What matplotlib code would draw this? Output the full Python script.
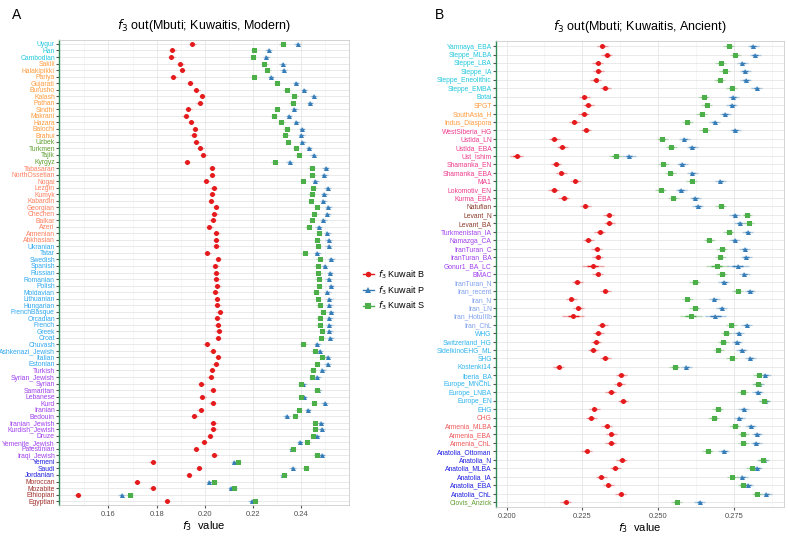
import matplotlib.pyplot as plt
from matplotlib.lines import Line2D
import numpy as np

plt.rcParams['font.family'] = ['Liberation Sans', 'DejaVu Sans']
plt.rcParams['mathtext.fontset'] = 'dejavusans'

# ---- panel A: modern populations ----
modern = ['Uygur', 'Han', 'Cambodian', 'Sakili', 'Halakipikki', 'Pariya', 'Gujarati',
          'Burusho', 'Kalash', 'Pathan', 'Sindhi', 'Makrani', 'Hazara', 'Balochi', 'Brahui',
          'Uzbek', 'Turkmen', 'Tajik', 'Kyrgyz', 'Tabasaran', 'NorthOssetian', 'Nogai',
          'Lezgin', 'Kumyk', 'Kabardin', 'Georgian', 'Chechen', 'Balkar', 'Azeri', 'Armenian',
          'Abkhasian', 'Ukranian', 'Tatar', 'Swedish', 'Spanish', 'Russian', 'Romanian',
          'Polish', 'Moldavian', 'Lithuanian', 'Hungarian', 'FrenchBasque', 'Orcadian',
          'French', 'Greek', 'Croat', 'Chuvash', 'Ashkenazi_Jewish', 'Italian', 'Estonian',
          'Turkish', 'Syrian_Jewish', 'Syrian', 'Samaritan', 'Lebanese', 'Kurd', 'Iranian',
          'Bedouin', 'Iranian_Jewish', 'Kurdish_Jewish', 'Druze', 'Yemenite_Jewish',
          'Palestinian', 'Iraqi_Jewish', 'Yemeni', 'Saudi', 'Jordanian', 'Moroccan',
          'Mozabite', 'Ethiopian', 'Egyptian']
modern_groups = ([('#22c8dc', 3), ('#ff9a3c', 12), ('#5f9e2f', 4), ('#ff7f5e', 12),
                  ('#2fa8f0', 19), ('#a040ee', 14), ('#1f1fe0', 3), ('#a0302c', 4)])

modern_b = [0.1948, 0.1865, 0.1861, 0.1898, 0.1905, 0.1869, 0.1938, 0.1964, 0.1988, 0.1979,
            0.1932, 0.1920, 0.1942, 0.1959, 0.1954, 0.1964, 0.1981, 0.1994, 0.1926, 0.2030,
            0.2030, 0.2006, 0.2036, 0.2030, 0.2025, 0.2046, 0.2040, 0.2032, 0.2018, 0.2047,
            0.2046, 0.2047, 0.2010, 0.2055, 0.2044, 0.2048, 0.2047, 0.2052, 0.2043, 0.2050,
            0.2052, 0.2061, 0.2051, 0.2054, 0.2058, 0.2055, 0.2007, 0.2032, 0.2055, 0.2045,
            0.2030, 0.2024, 0.1985, 0.2033, 0.1989, 0.2033, 0.1983, 0.1956, 0.2035, 0.2035,
            0.2021, 0.1996, 0.1963, 0.2039, 0.1784, 0.1976, 0.1934, 0.1719, 0.1783, 0.1472,
            0.1843]
modern_s = [0.2323, 0.2204, 0.2200, 0.2247, 0.2259, 0.2204, 0.2299, 0.2339, 0.2371, 0.2364,
            0.2299, 0.2287, 0.2317, 0.2339, 0.2334, 0.2345, 0.2378, 0.2389, 0.2290, 0.2443,
            0.2446, 0.2407, 0.2450, 0.2443, 0.2440, 0.2465, 0.2454, 0.2444, 0.2430, 0.2474,
            0.2466, 0.2469, 0.2414, 0.2477, 0.2468, 0.2470, 0.2472, 0.2474, 0.2462, 0.2469,
            0.2476, 0.2491, 0.2476, 0.2477, 0.2486, 0.2483, 0.2408, 0.2455, 0.2487, 0.2465,
            0.2447, 0.2446, 0.2399, 0.2467, 0.2399, 0.2453, 0.2389, 0.2374, 0.2458, 0.2458,
            0.2450, 0.2425, 0.2364, 0.2464, 0.2136, 0.2418, 0.2328, 0.2039, 0.2119, 0.1688,
            0.2208]
modern_p = [0.2385, 0.2265, 0.2255, 0.2323, 0.2327, 0.2274, 0.2378, 0.2411, 0.2451, 0.2436,
            0.2371, 0.2349, 0.2379, 0.2403, 0.2400, 0.2404, 0.2432, 0.2451, 0.2352, 0.2502,
            0.2495, 0.2459, 0.2509, 0.2495, 0.2491, 0.2512, 0.2508, 0.2492, 0.2473, 0.2508,
            0.2514, 0.2514, 0.2466, 0.2524, 0.2497, 0.2519, 0.2514, 0.2523, 0.2508, 0.2516,
            0.2516, 0.2523, 0.2516, 0.2516, 0.2517, 0.2520, 0.2466, 0.2476, 0.2510, 0.2510,
            0.2488, 0.2467, 0.2409, 0.2468, 0.2411, 0.2497, 0.2428, 0.2339, 0.2482, 0.2485,
            0.2465, 0.2395, 0.2361, 0.2486, 0.2122, 0.2364, 0.2325, 0.2018, 0.2109, 0.1655,
            0.2195]
modern_se = 0.0007

# ---- panel B: ancient populations ----
ancient = ['Yamnaya_EBA', 'Steppe_MLBA', 'Steppe_LBA', 'Steppe_IA', 'Steppe_Eneolithic',
           'Steppe_EMBA', 'Botai', 'SPGT', 'SouthAsia_H', 'Indus_Diaspora', 'WestSiberia_HG',
           'UstIda_LN', 'UstIda_EBA', 'Ust_Ishim', 'Shamanka_EN', 'Shamanka_EBA', 'MA1',
           'Lokomotiv_EN', 'Kurma_EBA', 'Natufian', 'Levant_N', 'Levant_BA', 'Turkmenistan_IA',
           'Namazga_CA', 'IranTuran_C', 'IranTuran_BA', 'Gonur1_BA_LC', 'BMAC', 'IranTuran_N',
           'Iran_recent', 'Iran_N', 'Iran_LN', 'Iran_HotuIIIb', 'Iran_ChL', 'WHG',
           'Switzerland_HG', 'SidelkinoEHG_ML', 'SHG', 'Kostenki14', 'Iberia_BA',
           'Europe_MNChL', 'Europe_LNBA', 'Europe_EN', 'EHG', 'CHG', 'Armenia_MLBA',
           'Armenia_EBA', 'Armenia_ChL', 'Anatolia_Ottoman', 'Anatolia_N', 'Anatolia_MLBA',
           'Anatolia_IA', 'Anatolia_EBA', 'Anatolia_ChL', 'Clovis_Anzick']
ancient_groups = ([('#22c8dc', 7), ('#ff9a3c', 3), ('#ee3a8c', 9), ('#8b3a2a', 3),
                   ('#a040ee', 6), ('#7fa0ee', 6), ('#2fb4ee', 10), ('#f05a5a', 4),
                   ('#1f1fe0', 6), ('#5f9e2f', 1)])

ancient_b = [0.2316, 0.2331, 0.2300, 0.2303, 0.2294, 0.2325, 0.2257, 0.2269, 0.2255, 0.2224,
             0.2262, 0.2157, 0.2183, 0.2033, 0.2163, 0.2181, 0.2227, 0.2156, 0.2189, 0.2260,
             0.2337, 0.2338, 0.2308, 0.2269, 0.2297, 0.2300, 0.2284, 0.2300, 0.2233, 0.2326,
             0.2214, 0.2237, 0.2220, 0.2315, 0.2302, 0.2295, 0.2285, 0.2325, 0.2172, 0.2378,
             0.2372, 0.2344, 0.2384, 0.2290, 0.2279, 0.2330, 0.2346, 0.2344, 0.2264, 0.2380,
             0.2358, 0.2312, 0.2336, 0.2376, 0.2195]
ancient_s = [0.2733, 0.2755, 0.2706, 0.2719, 0.2703, 0.2742, 0.2651, 0.2660, 0.2643, 0.2596,
             0.2653, 0.2513, 0.2543, 0.2360, 0.2517, 0.2540, 0.2610, 0.2509, 0.2550, 0.2707,
             0.2793, 0.2798, 0.2733, 0.2668, 0.2710, 0.2705, 0.2693, 0.2710, 0.2621, 0.2762,
             0.2596, 0.2621, 0.2608, 0.2741, 0.2724, 0.2714, 0.2699, 0.2742, 0.2555, 0.2831,
             0.2829, 0.2779, 0.2850, 0.2697, 0.2684, 0.2753, 0.2780, 0.2781, 0.2664, 0.2845,
             0.2808, 0.2745, 0.2780, 0.2826, 0.2561]
ancient_p = [0.2813, 0.2820, 0.2778, 0.2787, 0.2789, 0.2825, 0.2747, 0.2743, 0.2721, 0.2686,
             0.2754, 0.2586, 0.2612, 0.2404, 0.2579, 0.2613, 0.2705, 0.2576, 0.2622, 0.2631,
             0.2752, 0.2769, 0.2795, 0.2752, 0.2785, 0.2790, 0.2763, 0.2784, 0.2717, 0.2803,
             0.2685, 0.2709, 0.2689, 0.2792, 0.2765, 0.2760, 0.2776, 0.2804, 0.2593, 0.2854,
             0.2831, 0.2829, 0.2852, 0.2782, 0.2768, 0.2806, 0.2826, 0.2823, 0.2717, 0.2848,
             0.2826, 0.2778, 0.2796, 0.2857, 0.2637]
ancient_se = 0.0009
ancient_wide = {'Gonur1_BA_LC': 0.0018, 'Iran_HotuIIIb': 0.0018, 'Ust_Ishim': 0.0011}

RED, BLUE, GREEN = '#e41a1c', '#377eb8', '#4daf4a'
series_style = [('P', BLUE, '^'), ('S', GREEN, 's'), ('B', RED, 'o')]

fig = plt.figure(figsize=(7.88, 5.38), dpi=100)
axA = fig.add_axes([0.0749, 0.0613, 0.3680, 0.8643])
axB = fig.add_axes([0.6294, 0.0576, 0.3655, 0.8662])


def draw_panel(ax, cats, groups, vals, se, title, xlim, major, minor):
    n = len(cats)
    y = np.arange(n)[::-1]
    se = np.asarray(se) * np.ones(n)
    for key, col, mk in series_style:
        x = np.asarray(vals[key])
        ax.hlines(y, x - 2 * se, x + 2 * se, color=col, alpha=0.35, lw=1.0, zorder=3)
        ax.hlines(y, x - se, x + se, color=col, lw=1.0, zorder=3)
        ax.plot(x, y, ls='none', marker=mk, color=col, ms=3.6, mew=0, zorder=4)
    ax.set_yticks(y)
    ax.set_yticklabels(cats, fontsize=4.85)
    colors = [c for c, k in groups for _ in range(k)]
    for lab, c in zip(ax.get_yticklabels(), colors):
        lab.set_color(c)
    ax.set_ylim(-0.6, n - 0.4)
    ax.set_xlim(*xlim)
    ax.set_xticks(major)
    ax.set_xticks(minor, minor=True)
    ax.tick_params(axis='x', labelsize=5.4, length=2, color='#555555', pad=2,
                   labelcolor='#4d4d4d')
    ax.tick_params(axis='x', which='minor', length=0)
    ax.tick_params(axis='y', length=2, color='#555555', pad=1)
    ax.grid(True, which='major', color='#e6e6e6', lw=0.6, zorder=0)
    ax.grid(True, which='minor', axis='x', color='#f0f0f0', lw=0.4, zorder=0)
    ax.set_axisbelow(True)
    for s in ['top', 'right', 'bottom']:
        ax.spines[s].set_color('#cccccc')
        ax.spines[s].set_linewidth(0.6)
    ax.spines['left'].set_color('#2e8b57')
    ax.spines['left'].set_linewidth(1.0)
    ax.set_title(title, fontsize=9, pad=8)
    ax.set_xlabel(r'$f_3$  value', fontsize=8, labelpad=1)


draw_panel(axA, modern, modern_groups,
           {'B': modern_b, 'S': modern_s, 'P': modern_p}, modern_se,
           r'$f_3$ out(Mbuti; Kuwaitis, Modern)', (0.1395, 0.2598),
           [0.16, 0.18, 0.20, 0.22, 0.24], [0.15, 0.17, 0.19, 0.21, 0.23, 0.25])

anc_se = [ancient_wide.get(c, ancient_se) for c in ancient]
draw_panel(axB, ancient, ancient_groups,
           {'B': ancient_b, 'S': ancient_s, 'P': ancient_p}, anc_se,
           r'$f_3$ out(Mbuti; Kuwaitis, Ancient)', (0.1965, 0.2915),
           [0.200, 0.225, 0.250, 0.275], [0.2125, 0.2375, 0.2625, 0.2875])
axB.xaxis.set_major_formatter(plt.FormatStrFormatter('%.3f'))

fig.text(0.015, 0.985, 'A', fontsize=10, va='top')
fig.text(0.552, 0.985, 'B', fontsize=10, va='top')

handles = [Line2D([], [], color=RED, marker='o', ms=4, lw=1.0, mew=0),
           Line2D([], [], color=BLUE, marker='^', ms=4, lw=1.0, mew=0),
           Line2D([], [], color=GREEN, marker='s', ms=4, lw=1.0, mew=0)]
fig.legend(handles, [r'$f_3$ Kuwait B', r'$f_3$ Kuwait P', r'$f_3$ Kuwait S'],
           loc='center', bbox_to_anchor=(0.5, 0.46), frameon=False, fontsize=6.5,
           handlelength=1.2, handletextpad=0.5, labelspacing=0.35)

fig.savefig('out.png', dpi=100)
